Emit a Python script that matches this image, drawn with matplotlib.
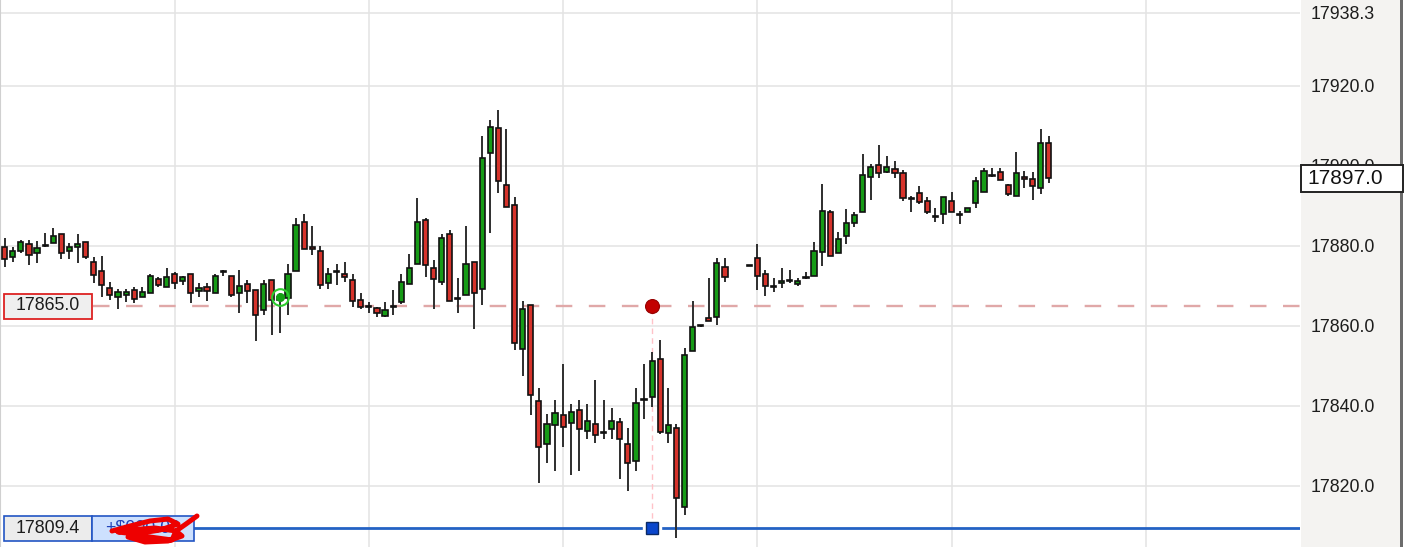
import matplotlib.pyplot as plt
from matplotlib.patches import Rectangle
from matplotlib.lines import Line2D
import matplotlib.transforms as mtransforms
import numpy as np

plt.rcParams['font.family'] = ['Liberation Sans', 'DejaVu Sans']

nan = np.nan
# OHLC, one entry per bar (two empty bars = no data)
opens = [17879.75, 17877.25, 17878.75, 17880.5, 17878.25, 17880.0, 17880.75, 17883.0, 17878.75, 17879.75,
         17881.0, 17876.0, 17873.75, 17869.5, 17867.25, 17867.75, 17869.0, 17867.25, 17868.25, 17871.75,
         17869.75, 17873.0, 17871.25, 17873.0, 17868.75, 17869.75, 17868.25, 17873.5, 17872.5, 17868.25,
         17870.5, 17869.0, 17864.0, 17871.5, 17866.5, 17867.0, 17873.75, 17886.0, 17879.75, 17878.75,
         17870.75, 17873.5, 17873.0, 17871.5, 17866.5, 17864.75, 17864.5, 17862.5, 17864.75, 17866.0,
         17870.5, 17875.5, 17886.5, 17874.5, 17871.0, 17883.0, 17866.75, 17867.75, 17876.0, 17869.25,
         17903.25, 17909.5, 17895.25, 17890.25, 17854.25, 17865.25, 17841.25, 17830.5, 17835.25, 17837.75,
         17835.75, 17839.0, 17833.75, 17835.5, 17833.25, 17834.25, 17836.0, 17830.5, 17826.25, 17841.5,
         17842.25, 17851.75, 17833.25, 17834.5, 17814.75, 17853.75, 17860.0, 17862.0, 17862.25, 17874.75,
         nan, nan, 17875.0, 17877.0, 17873.0, 17869.75, 17870.75, 17871.25, 17870.5, 17872.0,
         17872.5, 17878.5, 17888.5, 17878.25, 17882.5, 17885.75, 17888.5, 17897.25, 17900.25, 17898.5,
         17899.25, 17898.25, 17891.75, 17893.25, 17891.25, 17887.25, 17888.0, 17891.25, 17887.75, 17888.5,
         17890.75, 17893.5, 17897.5, 17898.5, 17895.25, 17892.5, 17897.25, 17896.75, 17894.5, 17905.75]
highs = [17882.0, 17879.75, 17881.5, 17881.5, 17881.25, 17883.25, 17884.5, 17883.0, 17880.75, 17883.0,
         17881.0, 17877.25, 17877.5, 17871.0, 17869.25, 17869.25, 17869.75, 17869.75, 17873.0, 17872.25,
         17874.5, 17873.5, 17872.5, 17873.0, 17870.75, 17870.75, 17873.0, 17874.0, 17872.5, 17874.0,
         17871.5, 17869.0, 17871.5, 17871.5, 17868.25, 17875.5, 17887.0, 17888.0, 17885.0, 17880.0,
         17874.5, 17875.5, 17876.0, 17873.0, 17868.25, 17866.0, 17864.75, 17866.0, 17869.0, 17873.0,
         17878.0, 17892.0, 17887.0, 17876.5, 17883.0, 17884.0, 17872.0, 17885.0, 17876.0, 17907.5,
         17911.5, 17914.0, 17909.25, 17892.25, 17866.25, 17865.25, 17844.5, 17838.0, 17841.5, 17850.5,
         17840.5, 17841.5, 17840.5, 17846.5, 17841.5, 17839.5, 17837.0, 17834.5, 17844.5, 17850.5,
         17853.5, 17856.5, 17844.5, 17835.5, 17854.5, 17866.25, 17860.25, 17872.0, 17877.0, 17877.0,
         nan, nan, 17875.0, 17880.5, 17874.0, 17872.0, 17874.5, 17874.0, 17872.0, 17873.5,
         17881.0, 17895.5, 17889.0, 17883.5, 17889.25, 17888.5, 17903.0, 17900.5, 17905.25, 17902.5,
         17901.25, 17899.0, 17892.5, 17895.0, 17892.25, 17889.5, 17892.25, 17893.5, 17888.75, 17889.5,
         17897.25, 17899.5, 17899.5, 17899.5, 17895.5, 17903.5, 17898.75, 17898.5, 17909.25, 17907.5]
lows = [17874.75, 17876.0, 17878.25, 17875.25, 17875.75, 17879.75, 17880.75, 17876.75, 17876.75, 17875.75,
        17876.75, 17870.75, 17867.25, 17866.5, 17864.25, 17866.0, 17865.75, 17867.25, 17868.25, 17869.75,
        17869.75, 17869.25, 17870.25, 17865.75, 17867.25, 17866.25, 17868.25, 17872.5, 17867.25, 17863.25,
        17865.75, 17856.25, 17862.75, 17857.75, 17858.25, 17862.75, 17873.75, 17879.25, 17877.75, 17869.25,
        17869.25, 17870.25, 17871.0, 17864.75, 17864.25, 17863.25, 17862.25, 17862.25, 17862.75, 17865.5,
        17870.5, 17875.5, 17872.25, 17864.25, 17870.25, 17866.25, 17863.25, 17867.75, 17859.25, 17865.25,
        17883.25, 17893.25, 17889.75, 17854.0, 17847.5, 17837.75, 17820.75, 17825.75, 17823.75, 17829.75,
        17822.75, 17823.75, 17831.75, 17830.75, 17831.75, 17831.75, 17821.75, 17818.75, 17823.75, 17836.75,
        17839.75, 17833.0, 17830.75, 17807.0, 17812.75, 17853.75, 17859.75, 17861.25, 17860.25, 17871.0,
        nan, nan, 17875.0, 17869.0, 17867.5, 17868.5, 17869.5, 17870.75, 17870.0, 17871.75,
        17872.5, 17875.0, 17877.5, 17878.25, 17880.5, 17884.75, 17888.5, 17891.5, 17897.0, 17898.25,
        17897.0, 17891.25, 17888.5, 17890.5, 17888.0, 17886.0, 17885.5, 17888.5, 17885.5, 17888.5,
        17889.5, 17893.5, 17897.25, 17896.5, 17892.5, 17892.5, 17894.5, 17891.5, 17893.0, 17895.75]
closes = [17876.75, 17878.75, 17881.0, 17877.75, 17879.5, 17880.25, 17882.5, 17878.25, 17879.75, 17880.5,
          17877.25, 17872.75, 17870.25, 17867.75, 17868.5, 17868.5, 17866.75, 17868.5, 17872.5, 17870.25,
          17872.25, 17870.75, 17872.25, 17868.25, 17869.5, 17868.75, 17872.5, 17873.75, 17867.75, 17870.0,
          17868.75, 17862.75, 17870.5, 17866.5, 17867.25, 17873.0, 17885.25, 17879.25, 17879.25, 17870.25,
          17873.0, 17873.75, 17872.25, 17866.25, 17864.75, 17865.0, 17863.25, 17864.0, 17865.0, 17871.0,
          17874.5, 17886.0, 17875.25, 17871.75, 17882.0, 17866.25, 17867.0, 17875.5, 17868.25, 17902.0,
          17909.75, 17896.25, 17889.75, 17855.75, 17864.25, 17842.75, 17829.75, 17835.5, 17838.25, 17834.75,
          17838.5, 17834.25, 17836.25, 17832.75, 17833.5, 17836.25, 17831.75, 17825.75, 17840.75, 17841.75,
          17851.25, 17833.5, 17835.25, 17817.0, 17852.75, 17859.75, 17860.25, 17861.25, 17875.75, 17872.25,
          nan, nan, 17875.0, 17872.5, 17870.0, 17870.0, 17871.25, 17871.5, 17871.25, 17872.25,
          17878.75, 17888.75, 17877.5, 17881.75, 17885.75, 17887.75, 17897.75, 17899.75, 17898.25, 17899.75,
          17898.25, 17892.0, 17892.0, 17891.0, 17888.5, 17887.5, 17892.25, 17888.5, 17888.0, 17889.5,
          17896.25, 17898.75, 17897.75, 17896.5, 17893.0, 17898.25, 17896.75, 17895.0, 17905.75, 17897.0]

price_ticks = [17820.0, 17840.0, 17860.0, 17880.0, 17900.0, 17920.0, 17938.3]
grid_bars = [21, 45, 69, 93, 117, 141]
last_price = 17897.0
entry_price = 17865.0
stop_price = 17809.4
entry_bar = 80
signal_bar = 34
signal_price = 17867.25
pnl_text = "+$000.00"

W, H = 1406, 547
fig = plt.figure(figsize=(W / 100, H / 100), dpi=100)
fig.patch.set_facecolor('white')
ax = fig.add_axes([0, 0, 1300 / W, 1])

o = np.array(opens)
h = np.array(highs)
l = np.array(lows)
c = np.array(closes)
x = np.arange(len(o))
ok = ~np.isnan(o)
up = c >= o
body_col = np.where(up, '#169b16', '#d6332b')

ax.vlines(x[ok], l[ok], h[ok], color='#2e2e2e', lw=1.4, zorder=3)
bottom = np.minimum(o, c)
height = np.maximum(np.abs(c - o), 0.25)
ax.bar(x[ok], height[ok], bottom=bottom[ok], width=0.64, color=body_col[ok],
       edgecolor='#111111', linewidth=1.2, zorder=4)

ax.set_xlim(-0.58, 160.05)
ax.set_ylim(17804.75, 17941.5)
ax.set_xticks(grid_bars)
ax.set_yticks(price_ticks)
ax.set_yticklabels([f"{p:.1f}" for p in price_ticks])
ax.grid(True, color='#e3e3e3', lw=1.1, zorder=0)
ax.yaxis.tick_right()
ax.tick_params(axis='x', length=0, labelbottom=False)
ax.tick_params(axis='y', length=0, pad=7.5, labelsize=12.8, labelcolor='#1c1c1c')
for s in ['top', 'right', 'bottom']:
    ax.spines[s].set_visible(False)
ax.spines['left'].set_color('#d0d0d0')

# price axis panel
fig.add_artist(Rectangle((1301 / W, 0), 99 / W, 1, transform=fig.transFigure,
                         facecolor='#f4f3f1', edgecolor='none', zorder=-1))
fig.add_artist(Rectangle((1400 / W, 0), 3 / W, 1, transform=fig.transFigure,
                         facecolor='#6c6c6c', edgecolor='none', zorder=-1))

trans = mtransforms.blended_transform_factory(ax.transAxes, ax.transData)
unit = 0.25  # price units per pixel

# last price box
ax.add_patch(Rectangle((1301 / 1300, last_price - 13.5 * unit), 102 / 1300, 27 * unit,
                       transform=trans, facecolor='white', edgecolor='#222222', lw=1.4,
                       clip_on=False, zorder=10))
ax.text(1307 / 1300, last_price, f"{last_price:.1f}", transform=trans, ha='left', va='center',
        fontsize=15, color='#111111', clip_on=False, zorder=11)

# entry line and label
ax.axhline(entry_price, xmin=93 / 1300, xmax=1, color='#e0a8a8', lw=1.7,
           dashes=(7, 7), zorder=2)
ax.add_patch(Rectangle((4 / 1300, entry_price - 12.5 * unit), 88 / 1300, 25 * unit,
                       transform=trans, facecolor='#efefef', edgecolor='#dd2222', lw=1.3, zorder=6))
ax.text(48 / 1300, entry_price, f"{entry_price:.1f}", transform=trans, ha='center', va='center',
        fontsize=12.8, color='#1c1c1c', zorder=7)

# stop line and label
ax.axhline(stop_price, xmin=194 / 1300, xmax=1, color='#2462c4', lw=2.0, zorder=2)
ax.add_patch(Rectangle((4 / 1300, stop_price - 12.5 * unit), 88 / 1300, 25 * unit,
                       transform=trans, facecolor='#ececec', edgecolor='#2255c4', lw=1.2, zorder=6))
ax.add_patch(Rectangle((92 / 1300, stop_price - 12.5 * unit), 102 / 1300, 25 * unit,
                       transform=trans, facecolor='#cde0fe', edgecolor='#2255c4', lw=1.2, zorder=6))
ax.text(48 / 1300, stop_price, f"{stop_price:.1f}", transform=trans, ha='center', va='center',
        fontsize=12.8, color='#1c1c1c', zorder=7)
ax.text(143 / 1300, stop_price, pnl_text, transform=trans, ha='center', va='center',
        fontsize=12.8, color='#2244bb', zorder=7)

# red scribble over the pnl value
sx = [112, 130, 150, 168, 178, 160, 135, 118, 128, 155, 176, 182, 168, 145, 128, 150, 172, 176, 186, 197]
sy = [531, 526, 521, 519, 524, 530, 534, 532, 530, 528, 531, 536, 541, 542, 537, 537, 540, 531, 524, 516]
fig.add_artist(Line2D(np.array(sx) / W, 1 - np.array(sy) / H, transform=fig.transFigure,
                      color='#ee0000', lw=3.6, solid_capstyle='round', solid_joinstyle='round', zorder=20))

# entry marker / stop marker
ax.plot([entry_bar, entry_bar], [stop_price, entry_price], color='#ffc2c8', lw=1.0,
        dashes=(4, 3), zorder=2)
ax.plot(entry_bar, entry_price, 'o', ms=10, mfc='#c20000', mec='#960000', mew=0.8, zorder=8)
ax.plot(entry_bar, stop_price, 's', ms=13, color='white', zorder=7)
ax.plot(entry_bar, stop_price, 's', ms=8.5, mfc='#0a46cc', mec='#0b2a66', mew=1.0, zorder=8)

# signal marker
ax.plot(signal_bar, signal_price, 'o', ms=12, mfc='none', mec='#2ecc2e', mew=1.5, zorder=8)
ax.plot(signal_bar, signal_price, 'o', ms=5.5, color='#14a014', zorder=8)

fig.savefig('out.png', dpi=100)
